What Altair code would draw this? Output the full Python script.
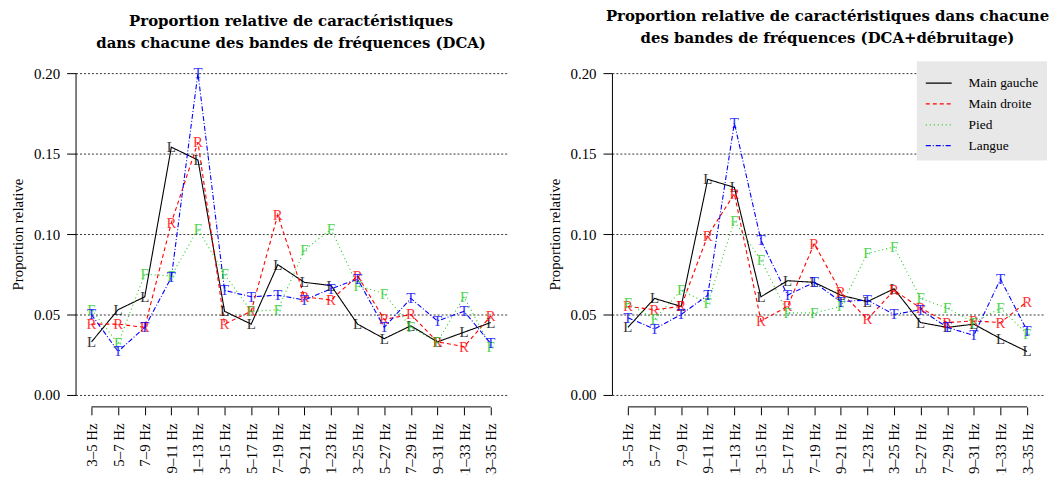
import altair as alt
import pandas as pd
import json

bands = ["3–5 Hz", "5–7 Hz", "7–9 Hz", "9–11 Hz", "11–13 Hz", "13–15 Hz", "15–17 Hz",
         "17–19 Hz", "19–21 Hz", "21–23 Hz", "23–25 Hz", "25–27 Hz", "27–29 Hz",
         "29–31 Hz", "31–33 Hz", "33–35 Hz"]

series = ["Main gauche", "Main droite", "Pied", "Langue"]
letters = ["L", "R", "F", "T"]
colors = ["#000000", "#ff0000", "#22cc22", "#0000ff"]
dashes = [[1, 0], [4, 3], [1, 3], [5, 2, 1, 2]]

# Panel 1: DCA
dca_L = [0.033, 0.053, 0.061, 0.154, 0.146, 0.052, 0.044, 0.081, 0.070, 0.068, 0.044, 0.035, 0.043, 0.033, 0.039, 0.045]
dca_R = [0.044, 0.044, 0.042, 0.107, 0.157, 0.044, 0.052, 0.112, 0.061, 0.059, 0.074, 0.047, 0.050, 0.033, 0.030, 0.049]
dca_F = [0.053, 0.032, 0.075, 0.074, 0.103, 0.075, 0.052, 0.053, 0.090, 0.103, 0.068, 0.063, 0.042, 0.033, 0.061, 0.030]
dca_T = [0.050, 0.027, 0.042, 0.073, 0.200, 0.065, 0.061, 0.062, 0.059, 0.066, 0.072, 0.042, 0.060, 0.046, 0.052, 0.032]

# Panel 2: DCA + débruitage
den_L = [0.042, 0.060, 0.055, 0.134, 0.129, 0.061, 0.071, 0.070, 0.062, 0.058, 0.066, 0.045, 0.042, 0.044, 0.035, 0.027]
den_R = [0.055, 0.053, 0.055, 0.099, 0.125, 0.046, 0.055, 0.094, 0.064, 0.047, 0.065, 0.054, 0.045, 0.046, 0.045, 0.058]
den_F = [0.057, 0.047, 0.065, 0.057, 0.108, 0.084, 0.051, 0.051, 0.055, 0.088, 0.092, 0.060, 0.054, 0.045, 0.054, 0.038]
den_T = [0.048, 0.041, 0.050, 0.062, 0.169, 0.096, 0.062, 0.070, 0.058, 0.059, 0.050, 0.053, 0.042, 0.037, 0.072, 0.040]

titles = [
    ["Proportion relative de caractéristiques", "dans chacune des bandes de fréquences (DCA)"],
    ["Proportion relative de caractéristiques dans chacune", "des bandes de fréquences (DCA+débruitage)"],
]

FONT = "Liberation Serif"
TFONT = "DejaVu Serif"
W, H = 434, 324
N = len(bands)
label_expr = json.dumps(bands, ensure_ascii=False) + "[round(datum.value)]"


def make_df(vals):
    rows = []
    for s, let, v in zip(series, letters, vals):
        for i, y in enumerate(v):
            rows.append({"serie": s, "lettre": let, "idx": i, "bande": bands[i], "val": y})
    return pd.DataFrame(rows)


def panel(vals, title, legend):
    df = make_df(vals)
    xscale = alt.Scale(domain=[-0.6, N - 1 + 0.6], nice=False, zero=False)
    xaxis = alt.Axis(values=list(range(N)), labelExpr=label_expr,
                     domain=False, ticks=True, tickSize=8, tickColor="black",
                     labelAngle=-90, labelPadding=8, offset=12, grid=False,
                     labelFont=FONT, labelFontSize=15, labelColor="black",
                     labelOverlap=False, labelBound=False, labelFlush=False,
                     labelAlign="right", labelBaseline="middle")
    xenc = alt.X("idx:Q", title=None, scale=xscale, axis=xaxis)
    yaxis = alt.Axis(values=[0, 0.05, 0.1, 0.15, 0.2], format=".2f",
                     grid=True, gridDash=[2, 2], gridColor="black",
                     gridOpacity=1, gridWidth=0.8,
                     domainColor="black", tickColor="black", tickSize=9,
                     labelFont=FONT, labelFontSize=15, labelColor="black",
                     labelPadding=7, titleFont=FONT, titleFontSize=15,
                     titleFontWeight="normal", titleColor="black",
                     titlePadding=8)
    yscale = alt.Scale(domain=[0, 0.2], nice=False, zero=True)
    yenc = alt.Y("val:Q", title="Proportion relative", scale=yscale, axis=yaxis)
    if legend:
        leg = alt.Legend(title=None, orient="none", legendX=307, legendY=-12,
                         fillColor="#e8e8e8", padding=8, symbolType="stroke",
                         symbolSize=676, symbolStrokeWidth=1.2, labelFont=FONT,
                         labelFontSize=13.5, labelColor="black", rowPadding=0,
                         labelOffset=16)
    else:
        leg = None
    cenc = alt.Color("serie:N", scale=alt.Scale(domain=series, range=colors), legend=leg)
    denc = alt.StrokeDash("serie:N", scale=alt.Scale(domain=series, range=dashes), legend=leg)

    lines = alt.Chart(df).mark_line(strokeWidth=1.1).encode(
        x=xenc, y=yenc, color=cenc, strokeDash=denc)
    texts = alt.Chart(df).mark_text(font=FONT, fontSize=15, opacity=0.8,
                                    baseline="middle", align="center").encode(
        x=xenc, y=yenc, text="lettre:N",
        fill=alt.Fill("serie:N", scale=alt.Scale(domain=series, range=colors), legend=None))
    base_df = pd.DataFrame({"a": [0], "b": [N - 1]})
    baseline = alt.Chart(base_df).mark_rule(color="black", strokeWidth=1).encode(
        x=alt.X("a:Q", title=None, scale=xscale, axis=xaxis), x2="b:Q", y=alt.value(H + 12))

    return alt.layer(lines, texts, baseline).properties(
        width=W, height=H,
        title=alt.TitleParams(text=title, font=TFONT, fontSize=15, fontWeight="bold",
                              anchor="middle", offset=15, lineHeight=22, color="black"))


left = panel([dca_L, dca_R, dca_F, dca_T], titles[0], False)
right = panel([den_L, den_R, den_F, den_T], titles[1], True)

chart = alt.hconcat(left, right, spacing=40).resolve_scale(
    color="independent", strokeDash="independent", fill="independent").properties(
    padding={"left": 2, "top": 0, "right": 0, "bottom": -8}
).configure_view(stroke=None)

chart.save("out.html", embed_options={"renderer": "svg", "actions": False})
